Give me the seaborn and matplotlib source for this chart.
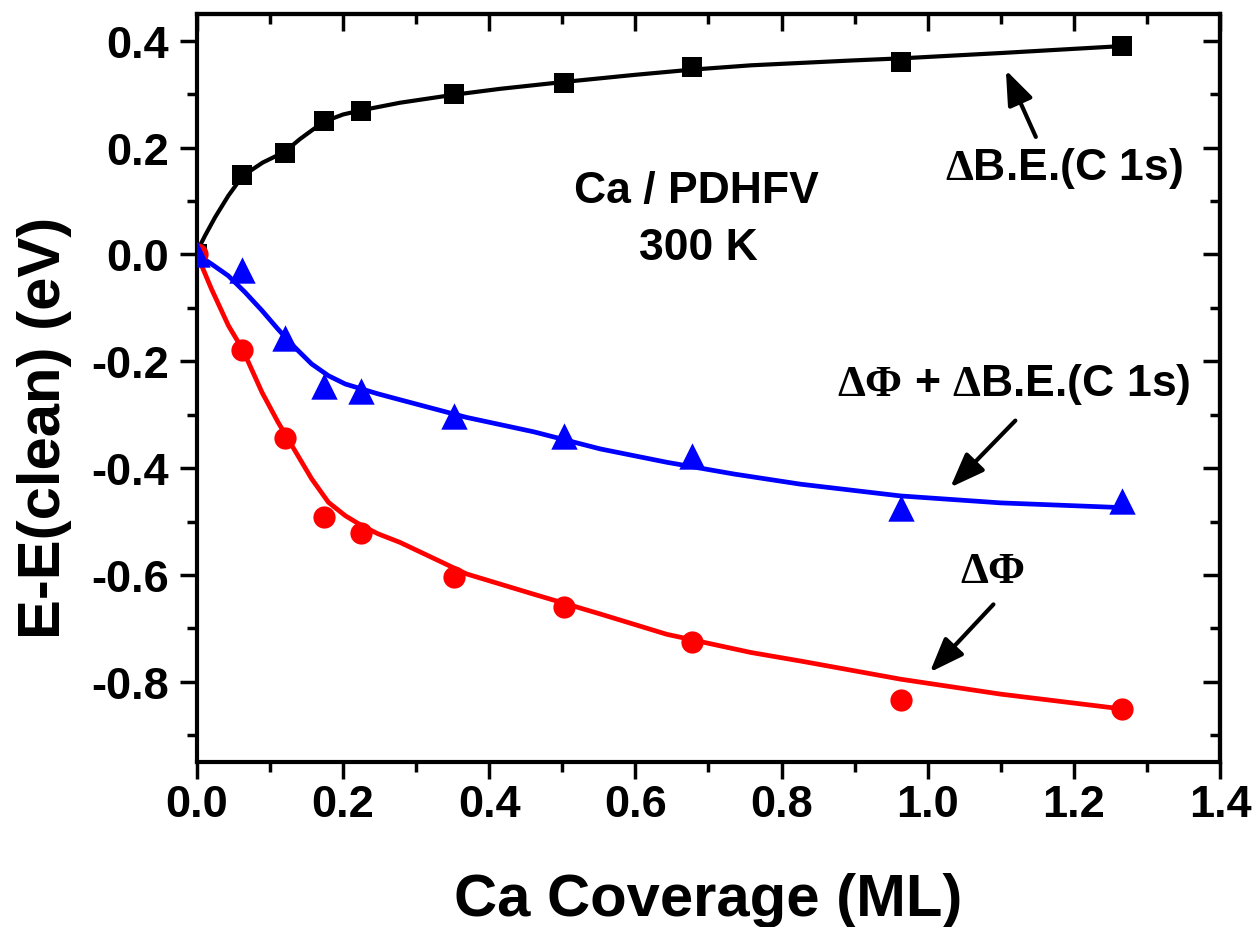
import matplotlib
matplotlib.use("Agg")
import matplotlib.pyplot as plt
from matplotlib.ticker import MultipleLocator, NullFormatter
import seaborn as sns
import pandas as pd

# Measured coverages and energy shifts
coverage = [0.0, 0.062, 0.12, 0.174, 0.225, 0.352, 0.502, 0.677, 0.963, 1.266]
d_be = [0.0, 0.149, 0.19, 0.25, 0.269, 0.30, 0.32, 0.35, 0.36, 0.39]
d_sum = [0.0, -0.03, -0.156, -0.246, -0.255, -0.302, -0.34, -0.377, -0.475, -0.462]
d_phi = [0.0, -0.178, -0.344, -0.492, -0.522, -0.603, -0.659, -0.726, -0.834, -0.851]

# Smooth guide curves through each series
fit_be_x = [0, 0.011, 0.025, 0.043, 0.0626, 0.09, 0.12, 0.141, 0.173, 0.2, 0.2256,
            0.278, 0.352, 0.415, 0.503, 0.598, 0.678, 0.758, 0.895, 0.963, 1.1, 1.266]
fit_be_y = [0.005, 0.035, 0.07, 0.11, 0.147, 0.172, 0.192, 0.216, 0.248, 0.262, 0.27,
            0.284, 0.299, 0.31, 0.323, 0.336, 0.346, 0.354, 0.363, 0.367, 0.377, 0.39]
fit_sum_x = [0, 0.02, 0.043, 0.066, 0.089, 0.111, 0.134, 0.157, 0.18, 0.203, 0.226,
             0.248, 0.278, 0.369, 0.461, 0.552, 0.643, 0.735, 0.826, 0.963, 1.1, 1.25, 1.266]
fit_sum_y = [0.0, -0.018, -0.040, -0.071, -0.105, -0.14, -0.174, -0.205, -0.227, -0.2425,
             -0.252, -0.261, -0.272, -0.305, -0.332, -0.364, -0.389, -0.411, -0.430,
             -0.452, -0.465, -0.473, -0.474]
fit_phi_x = [0, 0.02, 0.043, 0.0626, 0.089, 0.111, 0.134, 0.157, 0.18, 0.203, 0.226,
             0.248, 0.278, 0.369, 0.461, 0.552, 0.643, 0.758, 0.826, 0.963, 1.1, 1.25, 1.266]
fit_phi_y = [0.0, -0.065, -0.133, -0.178, -0.258, -0.314, -0.367, -0.420, -0.464, -0.489,
             -0.508, -0.523, -0.539, -0.598, -0.636, -0.673, -0.711, -0.745, -0.761,
             -0.795, -0.823, -0.848, -0.851]

xtick_vals = [0.0, 0.2, 0.4, 0.6, 0.8, 1.0, 1.2, 1.4]
xtick_labels = ["0.0", "0.2", "0.4", "0.6", "0.8", "1.0", "1.2", "1.4"]
ytick_vals = [-0.8, -0.6, -0.4, -0.2, 0.0, 0.2, 0.4]
ytick_labels = ["-0.8", "-0.6", "-0.4", "-0.2", "0.0", "0.2", "0.4"]

sns.set_theme(style="ticks")
plt.rcParams.update({
    "font.family": ["Liberation Sans", "DejaVu Sans"],
    "font.weight": "bold",
    "axes.labelweight": "bold",
    "axes.unicode_minus": False,
    "mathtext.fontset": "custom",
    "mathtext.rm": "Liberation Serif",
    "mathtext.it": "Liberation Serif:italic",
    "mathtext.bf": "Liberation Serif:bold",
})

fig = plt.figure(figsize=(12.56, 9.28), dpi=100)
ax = fig.add_axes([0.1568, 0.1778, 0.8145, 0.8060])

pts = pd.DataFrame({"x": coverage, "be": d_be, "sum": d_sum, "phi": d_phi})

# guide curves
sns.lineplot(x=fit_be_x, y=fit_be_y, ax=ax, color="black", lw=3, sort=False, estimator=None)
sns.lineplot(x=fit_phi_x, y=fit_phi_y, ax=ax, color="#ff0000", lw=3.4, sort=False, estimator=None)
sns.lineplot(x=fit_sum_x, y=fit_sum_y, ax=ax, color="#0000ff", lw=3.4, sort=False, estimator=None)

# measured points
sns.scatterplot(data=pts, x="x", y="be", ax=ax, marker="s", s=14.5**2, color="black", linewidth=0, zorder=3)
sns.scatterplot(data=pts, x="x", y="phi", ax=ax, marker="o", s=16**2, color="#ff0000", linewidth=0, zorder=3)
sns.scatterplot(data=pts, x="x", y="sum", ax=ax, marker="^", s=19**2, color="#0000ff", linewidth=0, zorder=3)

ax.set_xlim(0, 1.4)
ax.set_ylim(-0.95, 0.45)
ax.set_xticks(xtick_vals, labels=xtick_labels)
ax.set_yticks(ytick_vals, labels=ytick_labels)
ax.xaxis.set_minor_locator(MultipleLocator(0.1))
ax.yaxis.set_minor_locator(MultipleLocator(0.1))

for sp in ax.spines.values():
    sp.set_linewidth(3)
    sp.set_color("black")

ax.tick_params(which="major", direction="out", length=12, width=2.5, color="black",
               labelsize=32.5, top=False, right=False, labelcolor="black")
ax.tick_params(which="minor", direction="out", length=7, width=2.5, color="black",
               top=False, right=False)
ax.tick_params(axis="x", which="major", pad=3.5)
ax.tick_params(axis="y", which="major", pad=8)

# mirrored inward ticks on the top and right edges
secx = ax.secondary_xaxis("top")
secx.set_xticks(xtick_vals)
secx.xaxis.set_minor_locator(MultipleLocator(0.1))
secx.xaxis.set_major_formatter(NullFormatter())
secx.tick_params(which="major", direction="in", length=12, width=2.5, color="black")
secx.tick_params(which="minor", direction="in", length=7, width=2.5, color="black")
secx.spines["top"].set_linewidth(3)

secy = ax.secondary_yaxis("right")
secy.set_yticks(ytick_vals)
secy.yaxis.set_minor_locator(MultipleLocator(0.1))
secy.yaxis.set_major_formatter(NullFormatter())
secy.tick_params(which="major", direction="in", length=12, width=2.5, color="black")
secy.tick_params(which="minor", direction="in", length=7, width=2.5, color="black")
secy.spines["right"].set_linewidth(3)

ax.set_xlabel("Ca Coverage (ML)", fontsize=43, fontweight="bold", color="black")
ax.set_ylabel("E-E(clean) (eV)", fontsize=43, fontweight="bold", color="black")
ax.xaxis.set_label_coords(0.5, -0.147)
ax.yaxis.set_label_coords(-0.122, 0.4485)

# annotations
txt = dict(fontsize=32, fontweight="bold", color="black", ha="center", va="baseline")
ax.text(0.684, 0.098, "Ca / PDHFV", **txt)
ax.text(0.686, -0.008, "300 K", **txt)
ax.text(1.187, 0.141, r"$\Delta$B.E.(C 1s)", **txt)
ax.text(1.118, -0.264, r"$\Delta\Phi$ + $\Delta$B.E.(C 1s)", **txt)
ax.text(1.089, -0.614, r"$\Delta\Phi$", **txt)

arrow = dict(arrowstyle="-|>,head_length=1.05,head_width=0.4", color="black", lw=3,
             mutation_scale=20, shrinkA=0, shrinkB=0)
ax.annotate("", xy=(1.107, 0.345), xytext=(1.148, 0.220), arrowprops=arrow)
ax.annotate("", xy=(1.031, -0.436), xytext=(1.12, -0.311), arrowprops=arrow)
ax.annotate("", xy=(1.003, -0.782), xytext=(1.09, -0.655), arrowprops=arrow)

fig.savefig("out.png", dpi=100, facecolor="white")
